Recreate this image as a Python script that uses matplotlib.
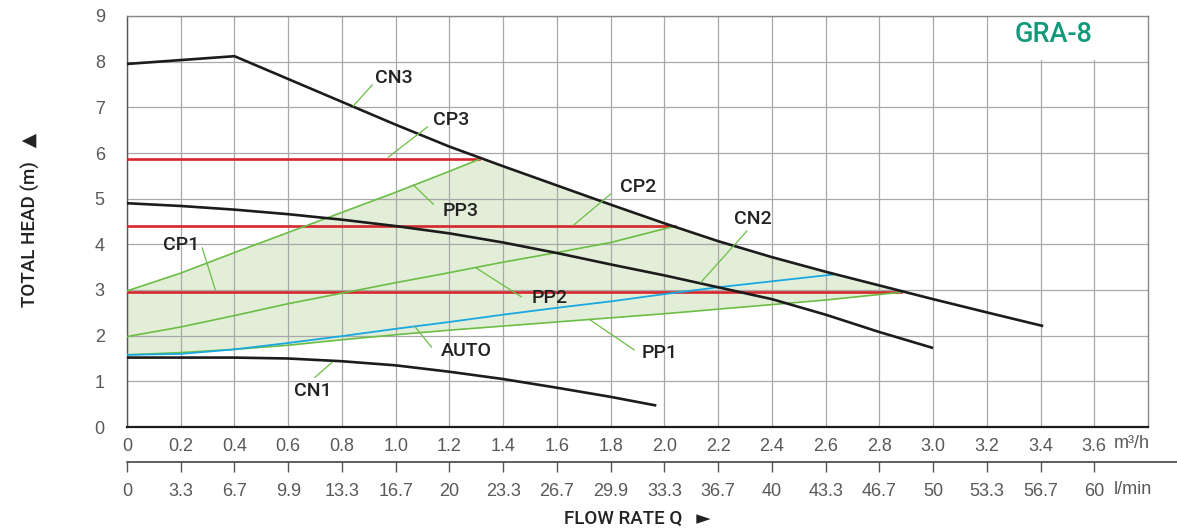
import numpy as np
import matplotlib.pyplot as plt
from matplotlib.patches import Rectangle

# flow in m3/h, head in m
m3h_ticks = [0, 0.2, 0.4, 0.6, 0.8, 1.0, 1.2, 1.4, 1.6, 1.8, 2.0, 2.2, 2.4, 2.6, 2.8, 3.0, 3.2, 3.4, 3.6]
m3h_labels = ["0", "0.2", "0.4", "0.6", "0.8", "1.0", "1.2", "1.4", "1.6", "1.8", "2.0",
              "2.2", "2.4", "2.6", "2.8", "3.0", "3.2", "3.4", "3.6"]
lmin_labels = ["0", "3.3", "6.7", "9.9", "13.3", "16.7", "20", "23.3", "26.7", "29.9", "33.3",
               "36.7", "40", "43.3", "46.7", "50", "53.3", "56.7", "60"]

cn3_q = [0, 0.4, 0.6, 0.8, 1.0, 1.2, 1.4, 1.6, 1.8, 2.0, 2.2, 2.4, 2.6, 2.8, 3.0, 3.2, 3.41]
cn3_h = [7.95, 8.12, 7.62, 7.12, 6.62, 6.14, 5.71, 5.29, 4.87, 4.46, 4.07, 3.72, 3.40, 3.10, 2.80, 2.51, 2.21]

cn2_q = [0, 0.2, 0.4, 0.6, 0.8, 1.0, 1.2, 1.4, 1.6, 1.8, 2.0, 2.2, 2.4, 2.6, 2.8, 3.0]
cn2_h = [4.90, 4.84, 4.76, 4.66, 4.54, 4.40, 4.24, 4.04, 3.81, 3.56, 3.32, 3.06, 2.80, 2.46, 2.08, 1.73]

cn1_q = [0, 0.2, 0.4, 0.6, 0.8, 1.0, 1.2, 1.4, 1.6, 1.8, 1.97]
cn1_h = [1.52, 1.52, 1.52, 1.50, 1.44, 1.35, 1.21, 1.05, 0.86, 0.66, 0.47]

pp3_q = [0, 0.2, 0.4, 0.6, 0.8, 1.0, 1.2, 1.31]
pp3_h = [2.98, 3.37, 3.82, 4.26, 4.70, 5.14, 5.60, 5.86]

pp2_q = [0, 0.2, 0.4, 0.6, 0.8, 1.0, 1.2, 1.4, 1.6, 1.8, 2.04]
pp2_h = [1.98, 2.19, 2.44, 2.70, 2.93, 3.16, 3.38, 3.61, 3.82, 4.04, 4.40]

pp1_q = [0, 0.2, 0.4, 0.6, 0.8, 1.0, 1.2, 1.4, 1.6, 1.8, 2.0, 2.2, 2.4, 2.6, 2.88]
pp1_h = [1.58, 1.63, 1.70, 1.79, 1.91, 2.02, 2.12, 2.21, 2.30, 2.39, 2.48, 2.58, 2.68, 2.78, 2.95]

auto_q = [0, 0.2, 0.4, 0.6, 0.8, 1.0, 1.2, 1.4, 1.6, 1.8, 2.0, 2.2, 2.4, 2.63]
auto_h = [1.58, 1.60, 1.70, 1.84, 1.99, 2.15, 2.30, 2.46, 2.61, 2.75, 2.91, 3.06, 3.19, 3.34]

cp_heads = [5.86, 4.40, 2.95]     # CP3, CP2, CP1
cp_ends = [1.31, 2.04, 2.88]

# label text position, leader start, leader end
labels = {
    "CN3": ((0.924, 7.64), (0.842, 7.03), (0.913, 7.49)),
    "CP3": ((1.14, 6.72), (0.973, 5.91), (1.118, 6.57)),
    "PP3": ((1.174, 4.73), (1.066, 5.30), (1.14, 4.88)),
    "CP2": ((1.834, 5.26), (1.662, 4.42), (1.80, 5.10)),
    "CN2": ((2.26, 4.55), (2.136, 3.17), (2.307, 4.29)),
    "CP1": ((0.134, 3.99), (0.33, 2.98), (0.28, 3.92)),
    "PP2": ((1.505, 2.82), (1.30, 3.48), (1.468, 2.85)),
    "PP1": ((1.916, 1.62), (1.72, 2.36), (1.887, 1.69)),
    "AUTO": ((1.167, 1.66), (1.073, 2.19), (1.133, 1.75)),
    "CN1": ((0.622, 0.79), (0.764, 1.42), (0.70, 1.09)),
}

black = "#1c1c1c"
red = "#d7262d"
green = "#6cbd45"
blue = "#19a8e0"
fill_c = "#e3eed8"
tick_c = "#595959"
lab_font = ["Roboto", "DejaVu Sans"]
tick_font = ["Liberation Sans", "DejaVu Sans"]

fig = plt.figure(figsize=(11.77, 5.29), dpi=100)
W, H = 1177, 529
x0, x1, y0, y1 = 127, 1148, 427, 16
ax = fig.add_axes([x0 / W, 1 - y0 / H, (x1 - x0) / W, (y0 - y1) / H])
ax.set_xlim(0, 3.8)
ax.set_ylim(0, 9)

# shaded operating area
cn3_part = [(q, h) for q, h in zip(cn3_q, cn3_h) if pp3_q[-1] < q < pp1_q[-1]]
poly_q = [0] + pp3_q + [p[0] for p in cn3_part] + pp1_q[::-1]
poly_h = [pp1_h[0]] + pp3_h + [p[1] for p in cn3_part] + pp1_h[::-1]
ax.fill(poly_q, poly_h, color=fill_c, zorder=0.3, lw=0)

for hd, qe in zip(cp_heads, cp_ends):
    ax.plot([0, qe], [hd, hd], color=red, lw=1.9, zorder=3)
for q, h in [(pp3_q, pp3_h), (pp2_q, pp2_h), (pp1_q, pp1_h)]:
    ax.plot(q, h, color=green, lw=1.2, zorder=3.2)
ax.plot(auto_q, auto_h, color=blue, lw=1.3, zorder=3.3)
for q, h in [(cn3_q, cn3_h), (cn2_q, cn2_h), (cn1_q, cn1_h)]:
    ax.plot(q, h, color=black, lw=1.9, zorder=4, solid_capstyle="butt")

for name, (tpos, p0, p1) in labels.items():
    ax.plot([p0[0], p1[0]], [p0[1], p1[1]], color=green, lw=0.9, zorder=4.5)
    ax.text(tpos[0], tpos[1], name, ha="left", va="center", fontsize=14,
            family=lab_font, fontweight="medium", color="#222222", zorder=5)

# grid
ax.set_xticks(m3h_ticks)
ax.set_xticklabels(m3h_labels)
ax.set_yticks(range(10))
ax.grid(True, color="#a8a8a8", lw=0.9)
ax.set_axisbelow(True)
ax.tick_params(axis="both", length=0, labelsize=13, labelcolor=tick_c)
ax.tick_params(axis="x", pad=8)
ax.tick_params(axis="y", pad=16)
for lab in ax.get_xticklabels() + ax.get_yticklabels():
    lab.set_family(tick_font)
for s in ["top", "right"]:
    ax.spines[s].set_color("#888888")
    ax.spines[s].set_linewidth(1.0)
ax.spines["left"].set_color("#555555")
ax.spines["left"].set_linewidth(1.0)
ax.spines["bottom"].set_color(black)
ax.spines["bottom"].set_linewidth(1.6)

# model name box
ax.add_patch(Rectangle((3.215, 8.03), 0.58, 0.95, facecolor="white", edgecolor="none", zorder=0.8))
ax.text(3.45, 8.6, "GRA-8", ha="center", va="center", fontsize=19.5, family=lab_font,
        fontweight="medium", color="#12997a", zorder=5)

# second flow axis (l/min)
ax2 = fig.add_axes([x0 / W, 1 - 462 / H, 1 - x0 / W, 0.0001])
ax2.set_xlim(0, 3.8 * (W - x0) / (x1 - x0))
ax2.set_xticks(m3h_ticks)
ax2.set_xticklabels(lmin_labels)
ax2.set_yticks([])
for s in ["top", "left", "right"]:
    ax2.spines[s].set_visible(False)
ax2.spines["bottom"].set_color("#333333")
ax2.spines["bottom"].set_linewidth(1.1)
ax2.tick_params(axis="x", direction="out", length=7, width=1.0, color="#555555",
                labelsize=13, labelcolor=tick_c, pad=8)
for lab in ax2.get_xticklabels():
    lab.set_family(tick_font)
ax2.patch.set_visible(False)

fig.text(1114 / W, 1 - 443 / H, "m³/h", ha="left", va="center", fontsize=13,
         family=tick_font, color=tick_c)
fig.text(1114 / W, 1 - 489 / H, "l/min", ha="left", va="center", fontsize=13,
         family=tick_font, color=tick_c)

fig.text(30 / W, 1 - 220 / H, "TOTAL HEAD (m)   ▲", rotation=90, ha="center", va="center",
         fontsize=13.5, family=lab_font, fontweight="medium", color="#222222")
fig.text(637 / W, 1 - 519 / H, "FLOW RATE Q   ►", ha="center", va="center",
         fontsize=13.5, family=lab_font, fontweight="medium", color="#222222")

fig.savefig("out.png", dpi=100)
